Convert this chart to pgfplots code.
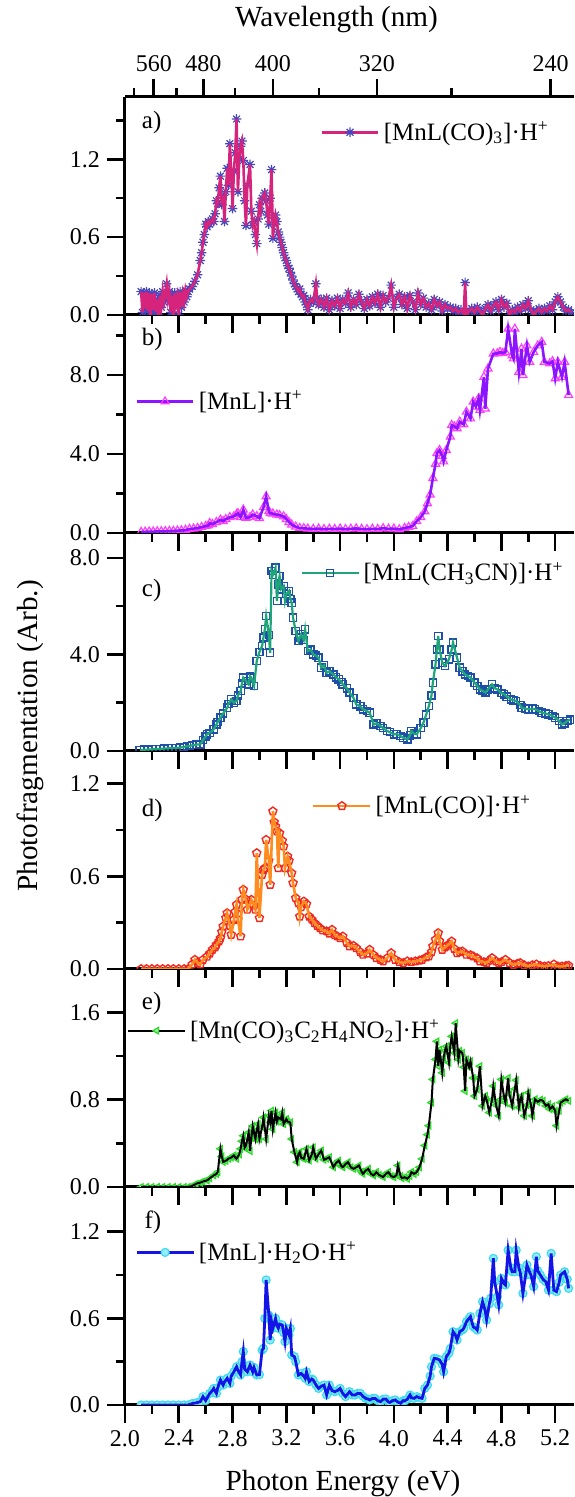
\documentclass[border=0pt]{standalone}
\usepackage{fontspec}
\setmainfont{Liberation Serif}
\usepackage{pgfplots}
\pgfplotsset{compat=1.18}
\usepackage{pgfplotstable}

\definecolor{lineA}{RGB}{214,35,124}
\definecolor{markA}{RGB}{70,70,190}
\definecolor{lineB}{RGB}{140,20,255}
\definecolor{markB}{RGB}{255,60,255}
\definecolor{lineC}{RGB}{30,165,120}
\definecolor{markC}{RGB}{30,80,170}
\definecolor{lineD}{RGB}{255,140,30}
\definecolor{markD}{RGB}{240,40,30}
\definecolor{markE}{RGB}{40,220,40}
\definecolor{lineF}{RGB}{20,20,230}
\definecolor{markF}{RGB}{60,220,240}

\pgfdeclareplotmark{ast8}{%
  \pgfpathmoveto{\pgfqpoint{-\pgfplotmarksize}{0pt}}\pgfpathlineto{\pgfqpoint{\pgfplotmarksize}{0pt}}%
  \pgfpathmoveto{\pgfqpoint{0pt}{-\pgfplotmarksize}}\pgfpathlineto{\pgfqpoint{0pt}{\pgfplotmarksize}}%
  \pgfpathmoveto{\pgfqpoint{-.707\pgfplotmarksize}{-.707\pgfplotmarksize}}\pgfpathlineto{\pgfqpoint{.707\pgfplotmarksize}{.707\pgfplotmarksize}}%
  \pgfpathmoveto{\pgfqpoint{-.707\pgfplotmarksize}{.707\pgfplotmarksize}}\pgfpathlineto{\pgfqpoint{.707\pgfplotmarksize}{-.707\pgfplotmarksize}}%
  \pgfusepathqstroke}

\tikzset{
  plabel/.style={anchor=west, font=\fontsize{12.5}{14}\selectfont},
  mkA/.style={mark=ast8, mark size=2.4pt, mark options={draw=markA, line width=0.6pt}},
  mkB/.style={mark=triangle, mark size=2.3pt, mark options={draw=markB, fill=markB!15, line width=0.6pt}},
  mkC/.style={mark=square, mark size=1.8pt, mark options={draw=markC, line width=0.7pt}},
  mkD/.style={mark=pentagon, mark size=2.1pt, mark options={draw=markD, fill=white, line width=0.7pt}},
  mkE/.style={mark=triangle*, mark size=1.9pt, mark options={draw=markE, fill=markE!45, rotate=90, line width=0.6pt}},
  mkF/.style={mark=*, mark size=2.0pt, mark options={draw=markF, fill=markF!55, line width=0.6pt}},
  lnA/.style={lineA, line width=1.3pt},
  lnB/.style={lineB, line width=1.3pt},
  lnC/.style={lineC, line width=1.1pt},
  lnD/.style={lineD, line width=1.3pt},
  lnE/.style={black, line width=1.0pt},
  lnF/.style={lineF, line width=1.4pt},
}
\pgfplotsset{
  legA/.style={legend image code/.code={\draw[lnA] (0cm,0cm) -- (1cm,0cm); \draw[only marks, mkA] plot coordinates {(0.5cm,0cm)};}},
  legB/.style={legend image code/.code={\draw[lnB] (0cm,0cm) -- (1cm,0cm); \draw[only marks, mkB] plot coordinates {(0.5cm,0cm)};}},
  legC/.style={legend image code/.code={\draw[lnC] (0cm,0cm) -- (1cm,0cm); \draw[only marks, mkC] plot coordinates {(0.5cm,0cm)};}},
  legD/.style={legend image code/.code={\draw[lnD] (0cm,0cm) -- (1cm,0cm); \draw[only marks, mkD] plot coordinates {(0.5cm,0cm)};}},
  legE/.style={legend image code/.code={\draw[lnE] (0cm,0cm) -- (1cm,0cm); \draw[only marks, mkE] plot coordinates {(0.5cm,0cm)};}},
  legF/.style={legend image code/.code={\draw[lnF] (0cm,0cm) -- (1cm,0cm); \draw[only marks, mkF] plot coordinates {(0.5cm,0cm)};}},
}

\pgfplotstableread{
x y
2.12 0.18
2.13 0.02
2.14 0.17
2.15 0.05
2.16 0.18
2.17 0.03
2.18 0.17
2.19 0.00
2.20 0.16
2.21 0.04
2.22 0.17
2.23 0.02
2.24 0.12
2.25 0.00
2.26 0.15
2.27 0.06
2.28 0.18
2.29 0.10
2.31 0.24
2.32 0.12
2.33 0.18
2.34 0.02
2.35 0.15
2.36 0.00
2.37 0.17
2.38 0.08
2.39 0.14
2.40 0.00
2.41 0.18
2.42 0.06
2.43 0.16
2.44 0.10
2.45 0.19
2.46 0.14
2.47 0.18
2.48 0.20
2.50 0.22
2.52 0.26
2.54 0.31
2.56 0.42
2.57 0.48
2.58 0.56
2.59 0.62
2.60 0.70
2.61 0.68
2.62 0.72
2.63 0.70
2.65 0.74
2.66 0.72
2.67 0.78
2.68 0.88
2.69 0.86
2.70 0.98
2.71 1.07
2.72 0.85
2.73 0.92
2.74 0.72
2.75 0.95
2.76 1.13
2.77 1.00
2.78 1.32
2.79 1.10
2.80 0.82
2.81 1.11
2.82 1.25
2.83 1.51
2.84 0.95
2.85 1.20
2.86 1.30
2.87 1.34
2.88 1.19
2.89 0.88
2.90 0.69
2.91 1.00
2.93 1.16
2.94 0.80
2.95 0.69
2.96 0.72
2.97 0.62
2.98 0.55
2.99 0.74
3.00 0.85
3.01 0.80
3.02 0.90
3.04 0.94
3.05 0.88
3.06 0.77
3.07 0.70
3.08 0.90
3.09 1.12
3.10 0.59
3.11 0.70
3.12 0.77
3.13 0.72
3.14 0.64
3.15 0.60
3.16 0.56
3.17 0.52
3.18 0.48
3.19 0.44
3.20 0.42
3.21 0.38
3.22 0.36
3.23 0.33
3.24 0.30
3.25 0.27
3.26 0.24
3.27 0.22
3.28 0.20
3.29 0.18
3.30 0.20
3.31 0.16
3.32 0.14
3.33 0.15
3.34 0.10
3.35 0.08
3.36 0.04
3.37 0.09
3.38 0.12
3.40 0.10
3.42 0.24
3.43 0.13
3.44 0.08
3.46 0.12
3.48 0.06
3.50 0.13
3.52 0.04
3.54 0.11
3.56 0.07
3.58 0.13
3.60 0.05
3.62 0.12
3.64 0.09
3.66 0.17
3.68 0.06
3.70 0.12
3.72 0.08
3.74 0.16
3.76 0.10
3.78 0.05
3.80 0.12
3.82 0.07
3.84 0.14
3.86 0.09
3.88 0.16
3.90 0.06
3.92 0.15
3.94 0.10
3.96 0.13
3.98 0.23
4.00 0.06
4.02 0.13
4.04 0.16
4.06 0.08
4.08 0.14
4.10 0.05
4.12 0.15
4.14 0.10
4.16 0.04
4.18 0.17
4.20 0.08
4.22 0.13
4.24 0.06
4.26 0.09
4.28 0.04
4.30 0.12
4.32 0.07
4.34 0.10
4.36 0.03
4.38 0.08
4.40 0.05
4.42 0.06
4.44 0.03
4.46 0.05
4.48 0.02
4.50 0.04
4.52 0.01
4.53 0.25
4.54 0.00
4.56 0.03
4.58 0.05
4.60 0.02
4.62 0.06
4.64 0.03
4.66 0.00
4.68 0.05
4.70 0.08
4.72 0.03
4.74 0.07
4.76 0.10
4.78 0.04
4.80 0.12
4.82 0.06
4.84 0.09
4.86 0.00
4.88 0.04
4.90 0.02
4.92 0.06
4.94 0.03
4.96 0.08
4.98 0.05
5.00 0.11
5.02 0.04
5.04 0.00
5.06 0.03
5.08 0.05
5.10 0.02
5.12 0.05
5.14 0.03
5.16 0.07
5.18 0.04
5.20 0.10
5.22 0.14
5.24 0.10
5.26 0.06
5.28 0.03
5.30 0.04
5.32 0.02
}\dA

\pgfplotstableread{
x y
2.12 0.05
2.15 0.06
2.18 0.07
2.21 0.07
2.24 0.08
2.27 0.08
2.30 0.09
2.33 0.10
2.36 0.10
2.39 0.12
2.42 0.13
2.45 0.15
2.48 0.20
2.51 0.22
2.54 0.25
2.57 0.30
2.60 0.35
2.62 0.38
2.63 0.50
2.65 0.45
2.68 0.55
2.71 0.67
2.73 0.60
2.75 0.70
2.78 0.80
2.81 0.84
2.83 0.95
2.84 1.00
2.86 0.80
2.88 1.18
2.90 0.76
2.93 0.80
2.95 0.93
2.98 0.85
3.00 0.75
3.03 1.30
3.05 1.85
3.07 1.10
3.08 1.00
3.10 0.98
3.13 0.93
3.15 0.90
3.18 0.84
3.20 0.70
3.22 0.55
3.24 0.42
3.27 0.32
3.30 0.25
3.33 0.24
3.36 0.22
3.40 0.20
3.44 0.22
3.48 0.19
3.52 0.21
3.56 0.20
3.60 0.22
3.64 0.19
3.68 0.21
3.72 0.23
3.76 0.20
3.80 0.19
3.84 0.21
3.88 0.20
3.92 0.24
3.96 0.21
4.00 0.22
4.04 0.18
4.08 0.25
4.11 0.30
4.14 0.35
4.17 0.59
4.20 0.80
4.23 1.09
4.25 1.50
4.27 1.94
4.29 2.78
4.31 3.50
4.32 4.04
4.34 4.20
4.36 3.90
4.37 3.62
4.39 4.20
4.42 4.88
4.43 5.47
4.45 5.40
4.47 5.30
4.49 5.64
4.52 5.50
4.54 6.14
4.57 5.80
4.59 6.65
4.61 6.40
4.63 6.82
4.64 6.23
4.67 7.91
4.68 6.30
4.70 8.33
4.74 9.09
4.77 9.10
4.79 9.17
4.81 9.12
4.83 9.17
4.85 10.35
4.88 9.00
4.89 8.84
4.90 10.35
4.93 8.16
4.95 9.34
4.96 8.00
4.99 9.50
5.01 8.67
5.04 9.17
5.07 9.50
5.10 9.68
5.12 8.67
5.16 8.59
5.18 8.70
5.20 7.83
5.22 8.67
5.25 7.90
5.27 8.67
5.30 6.99
}\dB

\pgfplotstableread{
x y
2.11 0.04
2.14 0.05
2.17 0.06
2.20 0.07
2.23 0.08
2.26 0.09
2.29 0.10
2.32 0.11
2.35 0.12
2.38 0.13
2.41 0.14
2.44 0.17
2.46 0.20
2.48 0.20
2.50 0.24
2.53 0.26
2.56 0.28
2.58 0.45
2.60 0.60
2.61 0.69
2.63 0.75
2.66 0.90
2.68 1.10
2.69 1.20
2.71 1.38
2.73 1.55
2.76 1.79
2.77 1.95
2.79 2.14
2.81 2.00
2.83 2.07
2.84 2.30
2.86 2.48
2.87 2.80
2.88 3.04
2.90 2.90
2.92 2.76
2.93 3.10
2.94 3.04
2.96 2.69
2.98 3.73
3.00 4.10
3.02 4.35
3.03 4.70
3.04 5.04
3.05 5.59
3.07 4.80
3.08 4.07
3.09 7.45
3.10 7.30
3.12 7.59
3.13 6.21
3.14 6.90
3.15 7.25
3.16 6.70
3.18 6.83
3.19 6.21
3.20 6.50
3.22 6.63
3.23 6.30
3.24 6.14
3.25 5.52
3.27 4.97
3.29 4.55
3.30 4.70
3.31 4.83
3.33 4.60
3.34 5.04
3.36 4.14
3.38 4.20
3.40 4.00
3.42 3.95
3.44 3.86
3.46 3.45
3.48 3.55
3.50 3.24
3.52 3.30
3.55 3.17
3.57 3.05
3.59 2.97
3.61 2.85
3.62 2.76
3.65 2.60
3.67 2.42
3.70 2.20
3.72 1.93
3.75 1.85
3.77 1.73
3.80 1.65
3.82 1.59
3.85 1.10
3.87 1.15
3.90 1.04
3.92 0.95
3.95 0.83
3.97 0.78
4.00 0.69
4.02 0.70
4.05 0.62
4.07 0.55
4.10 0.48
4.12 0.65
4.13 0.83
4.15 0.72
4.17 0.69
4.20 0.95
4.22 1.17
4.24 1.50
4.26 1.86
4.28 2.30
4.29 2.83
4.31 3.59
4.32 4.20
4.33 4.76
4.34 4.20
4.36 3.66
4.38 3.52
4.41 3.80
4.43 4.20
4.44 4.49
4.47 3.86
4.49 3.45
4.51 3.30
4.53 3.17
4.55 3.10
4.57 3.04
4.60 2.83
4.62 2.70
4.64 2.55
4.66 2.50
4.68 2.42
4.70 2.55
4.73 2.76
4.75 2.60
4.77 2.55
4.80 2.40
4.82 2.35
4.84 2.25
4.87 2.14
4.89 2.10
4.91 2.07
4.94 1.90
4.95 1.79
4.98 1.75
5.00 1.73
5.03 1.75
5.05 1.73
5.08 1.65
5.10 1.59
5.13 1.55
5.15 1.52
5.18 1.45
5.20 1.38
5.23 1.25
5.25 1.10
5.27 1.15
5.29 1.24
5.31 1.30
}\dC

\pgfplotstableread{
x y
2.12 0.00
2.16 0.00
2.20 0.00
2.24 0.00
2.28 0.00
2.32 0.00
2.36 0.00
2.40 0.00
2.44 0.00
2.47 0.00
2.50 0.03
2.52 0.06
2.54 0.04
2.56 0.03
2.58 0.06
2.61 0.08
2.63 0.10
2.65 0.125
2.67 0.14
2.68 0.157
2.70 0.18
2.71 0.20
2.72 0.24
2.73 0.276
2.75 0.33
2.76 0.362
2.78 0.28
2.79 0.222
2.81 0.319
2.82 0.37
2.83 0.416
2.84 0.32
2.86 0.211
2.87 0.45
2.88 0.513
2.90 0.45
2.91 0.384
2.93 0.42
2.94 0.448
2.96 0.41
2.97 0.384
2.98 0.75
3.00 0.33
3.02 0.61
3.03 0.64
3.04 0.653
3.05 0.836
3.07 0.70
3.08 0.545
3.10 1.02
3.11 0.95
3.12 0.922
3.13 0.89
3.14 0.653
3.15 0.879
3.17 0.83
3.18 0.793
3.19 0.653
3.21 0.728
3.22 0.70
3.24 0.62
3.25 0.556
3.27 0.459
3.29 0.427
3.30 0.34
3.31 0.40
3.33 0.437
3.35 0.42
3.37 0.34
3.39 0.32
3.41 0.297
3.43 0.28
3.45 0.265
3.47 0.25
3.50 0.244
3.52 0.23
3.54 0.254
3.56 0.22
3.58 0.211
3.60 0.20
3.62 0.211
3.65 0.17
3.67 0.147
3.70 0.15
3.72 0.136
3.75 0.11
3.77 0.093
3.80 0.10
3.82 0.125
3.85 0.09
3.87 0.071
3.90 0.06
3.92 0.05
3.95 0.07
3.98 0.103
4.01 0.06
4.04 0.045
4.07 0.039
4.10 0.05
4.13 0.045
4.16 0.05
4.19 0.055
4.21 0.06
4.24 0.075
4.26 0.082
4.28 0.11
4.29 0.147
4.31 0.19
4.33 0.233
4.34 0.18
4.36 0.125
4.38 0.14
4.39 0.147
4.41 0.16
4.43 0.179
4.45 0.13
4.47 0.103
4.49 0.11
4.51 0.114
4.54 0.093
4.57 0.09
4.59 0.082
4.62 0.07
4.64 0.05
4.67 0.045
4.69 0.039
4.71 0.055
4.73 0.071
4.76 0.05
4.78 0.039
4.80 0.045
4.83 0.06
4.86 0.04
4.89 0.028
4.92 0.035
4.94 0.039
4.97 0.025
5.00 0.017
5.03 0.025
5.06 0.03
5.09 0.02
5.12 0.017
5.15 0.02
5.19 0.03
5.22 0.017
5.25 0.017
5.28 0.02
5.30 0.022
}\dD

\pgfplotstableread{
x y
2.12 0.00
2.16 0.00
2.20 0.00
2.24 0.00
2.28 0.00
2.32 0.00
2.36 0.00
2.40 0.00
2.44 0.00
2.47 0.00
2.50 0.01
2.53 0.03
2.56 0.04
2.58 0.05
2.61 0.06
2.63 0.08
2.66 0.106
2.68 0.12
2.69 0.137
2.71 0.35
2.72 0.28
2.73 0.23
2.75 0.24
2.77 0.26
2.79 0.27
2.81 0.29
2.82 0.27
2.83 0.26
2.85 0.30
2.86 0.35
2.87 0.42
2.88 0.47
2.89 0.36
2.90 0.38
2.92 0.50
2.93 0.33
2.94 0.45
2.95 0.56
2.97 0.44
2.98 0.52
2.99 0.577
3.00 0.44
3.02 0.55
3.03 0.638
3.05 0.44
3.07 0.653
3.08 0.592
3.09 0.70
3.10 0.53
3.12 0.683
3.13 0.60
3.14 0.638
3.16 0.62
3.17 0.683
3.18 0.577
3.20 0.623
3.21 0.60
3.23 0.592
3.24 0.44
3.26 0.32
3.28 0.228
3.29 0.30
3.30 0.32
3.31 0.27
3.33 0.258
3.35 0.35
3.37 0.243
3.39 0.30
3.40 0.364
3.42 0.26
3.44 0.30
3.46 0.334
3.48 0.25
3.50 0.26
3.52 0.273
3.55 0.182
3.57 0.22
3.59 0.243
3.61 0.19
3.62 0.182
3.64 0.21
3.66 0.228
3.68 0.18
3.70 0.167
3.72 0.18
3.74 0.197
3.76 0.14
3.77 0.121
3.79 0.15
3.81 0.167
3.83 0.12
3.85 0.106
3.87 0.137
3.89 0.11
3.92 0.091
3.94 0.12
3.96 0.137
3.98 0.10
4.00 0.09
4.02 0.11
4.03 0.197
4.05 0.10
4.06 0.08
4.08 0.09
4.10 0.076
4.12 0.10
4.13 0.137
4.15 0.12
4.17 0.137
4.19 0.18
4.21 0.258
4.23 0.38
4.25 0.48
4.26 0.562
4.28 0.774
4.29 0.987
4.31 1.17
4.32 1.336
4.33 1.109
4.34 1.26
4.36 1.048
4.37 1.185
4.38 1.25
4.39 1.29
4.41 1.14
4.42 1.30
4.43 1.382
4.45 1.23
4.46 1.503
4.48 1.17
4.49 1.25
4.51 1.23
4.52 1.10
4.53 0.88
4.54 1.17
4.56 1.10
4.57 1.154
4.59 1.00
4.60 0.835
4.62 0.896
4.63 1.00
4.64 1.109
4.66 0.744
4.68 0.835
4.69 0.80
4.71 0.683
4.73 0.80
4.74 0.926
4.76 0.75
4.78 0.653
4.79 0.80
4.80 0.987
4.82 0.82
4.83 0.774
4.85 1.00
4.86 0.85
4.88 0.744
4.90 0.90
4.91 0.98
4.93 0.729
4.94 0.80
4.95 0.835
4.97 0.653
4.99 0.75
5.00 0.865
5.02 0.75
5.03 0.653
5.05 0.805
5.07 0.78
5.09 0.80
5.11 0.79
5.13 0.744
5.15 0.76
5.16 0.714
5.18 0.74
5.20 0.70
5.21 0.562
5.23 0.70
5.24 0.774
5.26 0.79
5.28 0.805
5.30 0.79
}\dE

\pgfplotstableread{
x y
2.12 0.00
2.16 0.00
2.20 0.00
2.24 0.00
2.28 0.00
2.32 0.00
2.36 0.00
2.40 0.00
2.44 0.00
2.47 0.00
2.50 0.01
2.53 0.015
2.56 0.023
2.58 0.058
2.60 0.03
2.63 0.08
2.65 0.10
2.66 0.115
2.68 0.08
2.69 0.12
2.71 0.173
2.73 0.138
2.74 0.16
2.76 0.185
2.78 0.15
2.79 0.20
2.81 0.23
2.83 0.265
2.84 0.24
2.86 0.208
2.87 0.30
2.88 0.37
2.89 0.25
2.91 0.23
2.93 0.277
2.95 0.23
2.96 0.26
2.98 0.208
3.00 0.21
3.02 0.38
3.03 0.392
3.04 0.60
3.05 0.866
3.07 0.623
3.08 0.45
3.09 0.577
3.10 0.531
3.12 0.60
3.13 0.55
3.14 0.531
3.15 0.56
3.17 0.554
3.18 0.50
3.19 0.439
3.20 0.53
3.22 0.485
3.23 0.53
3.24 0.346
3.26 0.335
3.27 0.30
3.29 0.208
3.31 0.219
3.33 0.20
3.34 0.185
3.35 0.23
3.37 0.162
3.39 0.18
3.40 0.173
3.42 0.14
3.44 0.115
3.46 0.13
3.48 0.138
3.50 0.069
3.52 0.138
3.54 0.10
3.56 0.092
3.58 0.10
3.60 0.115
3.62 0.08
3.64 0.058
3.66 0.08
3.67 0.092
3.69 0.07
3.71 0.069
3.73 0.08
3.75 0.081
3.77 0.06
3.79 0.046
3.81 0.04
3.82 0.035
3.84 0.045
3.86 0.046
3.88 0.03
3.90 0.023
3.92 0.04
3.94 0.042
3.96 0.02
3.97 0.018
3.99 0.03
4.01 0.035
4.03 0.02
4.05 0.012
4.07 0.03
4.08 0.028
4.10 0.04
4.12 0.069
4.13 0.05
4.15 0.046
4.17 0.058
4.19 0.05
4.21 0.046
4.23 0.115
4.25 0.138
4.27 0.20
4.28 0.265
4.30 0.323
4.32 0.32
4.34 0.312
4.36 0.28
4.37 0.23
4.39 0.335
4.41 0.36
4.42 0.392
4.44 0.508
4.46 0.48
4.47 0.45
4.49 0.508
4.51 0.52
4.52 0.531
4.54 0.577
4.56 0.60
4.57 0.612
4.59 0.542
4.61 0.53
4.62 0.519
4.64 0.635
4.66 0.716
4.68 0.65
4.69 0.589
4.71 0.70
4.72 0.739
4.74 1.016
4.75 0.854
4.77 0.75
4.78 0.693
4.80 0.877
4.82 0.84
4.83 0.831
4.85 1.073
4.87 0.95
4.88 0.923
4.90 0.923
4.91 1.073
4.93 0.95
4.94 0.92
4.96 0.773
4.98 0.90
4.99 0.97
5.01 0.92
5.02 0.90
5.04 0.82
5.06 1.027
5.07 0.93
5.09 0.90
5.11 0.87
5.13 0.854
5.15 0.796
5.17 1.05
5.19 0.796
5.21 0.785
5.23 0.85
5.24 0.90
5.27 0.923
5.29 0.87
5.30 0.808
}\dF

\pgfplotsset{
  panel/.style={
    scale only axis, width=224.5pt, height=109pt,
    xmin=2.0, xmax=5.34, ymin=0,
    clip marker paths=true,
    axis x line*=bottom, axis y line*=left,
    axis line style={line width=1.5pt, black},
    xtick={2.0,2.4,...,5.3}, minor xtick={2.2,2.6,...,5.3},
    tick align=outside,
    major tick length=9pt, minor tick length=4.5pt,
    every tick/.style={line width=1.3pt, black},
    every minor tick/.style={line width=1.3pt, black},
    /pgf/number format/assume math mode=true,
    tick label style={font=\fontsize{12}{14}\selectfont},
    yticklabel style={/pgf/number format/.cd, fixed, fixed zerofill, precision=1},
    xticklabels={},
    legend style={draw=none, fill=none, inner sep=0pt, anchor=west,
      font=\fontsize{12.5}{14}\selectfont, nodes={inner sep=2pt}},
    legend cell align=left,
  },
}

\begin{document}
\begin{tikzpicture}

% ---------- a ----------
\begin{axis}[panel, at={(0,545pt)}, ymax=1.68,
  ytick={0,0.6,1.2}, minor ytick={0.3,0.9,1.5},
  legend style={at={(rel axis cs:0.434,0.838)}}]
\addplot[forget plot, only marks, mkA] table {\dA};
\addplot[lnA, legA] table {\dA};
\addlegendentry{[MnL(CO)\textsubscript{3}]·H\textsuperscript{+}}
\node[plabel] at (rel axis cs:0.022,0.884) {a)};
\end{axis}

% top wavelength axis
\begin{axis}[scale only axis, width=224.5pt, height=109pt, at={(0,545pt)},
  xmin=2.0, xmax=5.34, ymin=0, ymax=1,
  axis x line*=top, axis y line=none,
  axis line style={line width=1.5pt, black},
  xtick={2.21400,2.58300,3.09960,3.87450,5.16600},
  xticklabels={560,480,400,320,240},
  minor xtick={2.06640,2.38431,2.81782,3.44400,4.42800},
  tick align=outside,
  major tick length=9pt, minor tick length=4.5pt,
  every tick/.style={line width=1.3pt, black},
  every minor tick/.style={line width=1.3pt, black},
  tick label style={font=\fontsize{12}{14}\selectfont}]
\addplot[draw=none] coordinates {(3,0.5)};
\end{axis}

% ---------- b ----------
\begin{axis}[panel, at={(0,436pt)}, ymax=11.05,
  ytick={0,4,8}, minor ytick={2,6,10},
  legend style={at={(rel axis cs:0.022,0.603)}}]
\addplot[forget plot, only marks, mkB] table {\dB};
\addplot[lnB, legB] table {\dB};
\addlegendentry{[MnL]·H\textsuperscript{+}}
\node[plabel] at (rel axis cs:0.022,0.886) {b)};
\end{axis}

% ---------- c ----------
\begin{axis}[panel, at={(0,327pt)}, ymax=9.03,
  ytick={0,4,8}, minor ytick={2,6},
  legend style={at={(rel axis cs:0.39,0.816)}}]
\addplot[forget plot, only marks, mkC] table {\dC};
\addplot[lnC, legC] table {\dC};
\addlegendentry{[MnL(CH\textsubscript{3}CN)]·H\textsuperscript{+}}
\node[plabel] at (rel axis cs:0.022,0.734) {c)};
\end{axis}

% ---------- d ----------
\begin{axis}[panel, at={(0,218pt)}, ymax=1.41,
  ytick={0,0.6,1.2}, minor ytick={0.3,0.9},
  legend style={at={(rel axis cs:0.416,0.748)}}]
\addplot[forget plot, only marks, mkD] table {\dD};
\addplot[lnD, legD] table {\dD};
\addlegendentry{[MnL(CO)]·H\textsuperscript{+}}
\node[plabel] at (rel axis cs:0.022,0.725) {d)};
\end{axis}

% ---------- e ----------
\begin{axis}[panel, at={(0,109pt)}, ymax=2.0,
  ytick={0,0.8,1.6}, minor ytick={0.4,1.2},
  legend style={at={(rel axis cs:0.004,0.717)}}]
\addplot[forget plot, only marks, mkE] table {\dE};
\addplot[lnE, legE] table {\dE};
\addlegendentry{[Mn(CO)\textsubscript{3}C\textsubscript{2}H\textsubscript{4}NO\textsubscript{2}]·H\textsuperscript{+}}
\node[plabel] at (rel axis cs:0.022,0.84) {e)};
\end{axis}

% ---------- f ----------
\begin{axis}[panel, at={(0,0pt)}, ymax=1.51,
  ytick={0,0.6,1.2}, minor ytick={0.3,0.9},
  xticklabels={2.0,2.4,2.8,3.2,3.6,4.0,4.4,4.8,5.2},
  legend style={at={(rel axis cs:0.022,0.70)}}]
\addplot[forget plot, only marks, mkF] table {\dF};
\addplot[lnF, legF] table {\dF};
\addlegendentry{[MnL]·H\textsubscript{2}O·H\textsuperscript{+}}
\node[plabel] at (rel axis cs:0.028,0.84) {f)};
\end{axis}

\node[rotate=90, font=\fontsize{14.6}{16}\selectfont] at (-47.5pt,334.5pt) {Photofragmentation (Arb.)};
\node[anchor=base, font=\fontsize{14.6}{16}\selectfont] at (109pt,-43pt) {Photon Energy (eV)};
\node[anchor=base, font=\fontsize{14.6}{16}\selectfont] at (105.75pt,689pt) {Wavelength (nm)};

\pgfresetboundingbox
\useasboundingbox (-62.5pt,-46pt) rectangle (224.5pt,702.5pt);
\end{tikzpicture}
\end{document}
